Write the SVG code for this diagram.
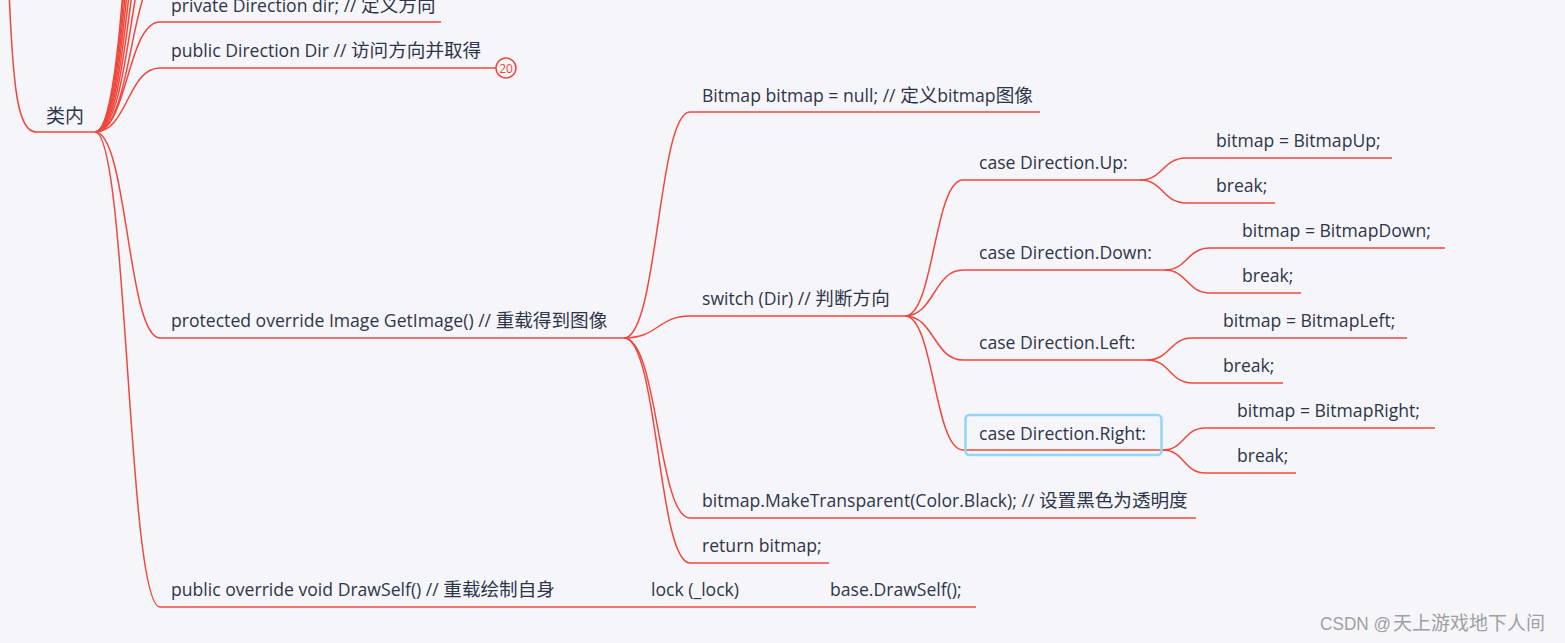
<svg xmlns="http://www.w3.org/2000/svg" width="1565" height="643" viewBox="0 0 1565 643">
<style>
.t{font-family:"Open Sans","Noto Sans CJK SC",sans-serif;font-size:17.6px;fill:#2e3548}
.c{font-family:"Noto Sans CJK SC",sans-serif;font-size:18.6px}
.r{font-size:19px}
.ln{fill:none;stroke:#f0473c;stroke-width:1.5}
.wm{font-family:"Liberation Sans","Noto Sans CJK SC",sans-serif;font-size:19px;fill:#a0a0a0}
</style>
<rect width="1565" height="643" fill="#f6f6fa"/>
<g id="connectors" class="ln">
<path d="M9,-10 C13,90 18,132 36,132"/>
<path d="M95,132 C132,132 130,-24 160,-24"/>
<path d="M95,132 C132,132 130,-70 160,-70"/>
<path d="M95,132 C132,132 130,-116 160,-116"/>
<path d="M95,132 C132,132 130,-162 160,-162"/>
<path d="M95,132 C132,132 130,-208 160,-208"/>
<path d="M95,132 C132,132 130,-254 160,-254"/>
<path d="M95,132 C132,132 130,-300 160,-300"/>
<path d="M95,132 C132,132 130,-346 160,-346"/>
<path d="M95,132 C127.5,132 127.5,22 160,22"/>
<path d="M95,132 C127.5,132 127.5,68 160,68"/>
<path d="M95,132 C127.5,132 127.5,338 160,338"/>
<path d="M95,132 C127.5,132 127.5,607 160,607"/>
<path d="M624,338 C658,338 658,112 690,112"/>
<path d="M624,338 C658,338 658,316 690,316"/>
<path d="M624,338 C658,338 658,518 690,518"/>
<path d="M624,338 C658,338 658,563 690,563"/>
<path d="M905,316 C934,316 934,180 963,180"/>
<path d="M905,316 C934,316 934,270 963,270"/>
<path d="M905,316 C934,316 934,360 963,360"/>
<path d="M905,316 C934,316 934,450 963,450"/>
<path d="M1140,180 C1163,180 1163,158 1186,158"/>
<path d="M1140,180 C1163,180 1163,203 1186,203"/>
<path d="M1165,270 C1187,270 1187,248 1210,248"/>
<path d="M1165,270 C1187,270 1187,293 1210,293"/>
<path d="M1147,360 C1170,360 1170,338 1192,338"/>
<path d="M1147,360 C1170,360 1170,383 1192,383"/>
<path d="M1163,450 C1184,450 1184,428 1205,428"/>
<path d="M1163,450 C1184,450 1184,473 1205,473"/>
<path d="M630,607 L645,607"/>
<path d="M757,607 L820,607"/>
</g>
<g id="root"><line class="ln" x1="35" y1="132" x2="95" y2="132"/><text class="t r" x="46" y="123">类内</text></g>
<g id="n-dir"><line class="ln" x1="160" y1="22" x2="441" y2="22"/><text class="t" x="171" y="12">private Direction dir; // <tspan class="c">定义方向</tspan></text></g>
<g id="n-Dir"><line class="ln" x1="160" y1="68" x2="496" y2="68"/><text class="t" x="171" y="57">public Direction Dir // <tspan class="c">访问方向并取得</tspan></text>
<circle cx="506" cy="68" r="10" fill="#f6f6fa" stroke="#f0473c" stroke-width="1.5"/><text x="506" y="72.5" text-anchor="middle" font-family="Open Sans,sans-serif" font-size="12" fill="#f0473c">20</text></g>
<g id="n-getimage"><line class="ln" x1="160" y1="338" x2="624" y2="338"/><text class="t" x="171" y="327">protected override Image GetImage() // <tspan class="c">重载得到图像</tspan></text></g>
<g id="n-drawself"><line class="ln" x1="160" y1="607" x2="630" y2="607"/><text class="t" x="171" y="596">public override void DrawSelf() // <tspan class="c">重载绘制自身</tspan></text></g>
<g id="n-lock"><line class="ln" x1="645" y1="607" x2="757" y2="607"/><text class="t" x="651" y="596">lock (_lock)</text></g>
<g id="n-base"><line class="ln" x1="820" y1="607" x2="976" y2="607"/><text class="t" x="830" y="596">base.DrawSelf();</text></g>
<g id="n-bitmap"><line class="ln" x1="690" y1="112" x2="1040" y2="112"/><text class="t" x="702" y="102">Bitmap bitmap = null; // <tspan class="c">定义</tspan>bitmap<tspan class="c">图像</tspan></text></g>
<g id="n-switch"><line class="ln" x1="690" y1="316" x2="905" y2="316"/><text class="t" x="702" y="305">switch (Dir) // <tspan class="c">判断方向</tspan></text></g>
<g id="n-transparent"><line class="ln" x1="690" y1="518" x2="1196" y2="518"/><text class="t" x="702" y="507">bitmap.MakeTransparent(Color.Black); // <tspan class="c">设置黑色为透明度</tspan></text></g>
<g id="n-return"><line class="ln" x1="690" y1="563" x2="829" y2="563"/><text class="t" x="702" y="552">return bitmap;</text></g>
<g id="n-up"><line class="ln" x1="963" y1="180" x2="1140" y2="180"/><text class="t" x="979" y="169">case Direction.Up:</text></g>
<g id="n-down"><line class="ln" x1="963" y1="270" x2="1165" y2="270"/><text class="t" x="979" y="259">case Direction.Down:</text></g>
<g id="n-left"><line class="ln" x1="963" y1="360" x2="1147" y2="360"/><text class="t" x="979" y="349">case Direction.Left:</text></g>
<g id="n-right"><line class="ln" x1="963" y1="450" x2="1163" y2="450"/><text class="t" x="979" y="440">case Direction.Right:</text>
<rect x="965.5" y="415" width="196" height="40" rx="4" fill="none" stroke="#93d4fa" stroke-width="2.5"/></g>
<g id="n-up1"><line class="ln" x1="1186" y1="158" x2="1392" y2="158"/><text class="t" x="1216" y="147">bitmap = BitmapUp;</text></g>
<g id="n-up2"><line class="ln" x1="1186" y1="203" x2="1275" y2="203"/><text class="t" x="1216" y="192">break;</text></g>
<g id="n-down1"><line class="ln" x1="1210" y1="248" x2="1445" y2="248"/><text class="t" x="1242" y="237">bitmap = BitmapDown;</text></g>
<g id="n-down2"><line class="ln" x1="1210" y1="293" x2="1301" y2="293"/><text class="t" x="1242" y="282">break;</text></g>
<g id="n-left1"><line class="ln" x1="1192" y1="338" x2="1407" y2="338"/><text class="t" x="1223" y="327">bitmap = BitmapLeft;</text></g>
<g id="n-left2"><line class="ln" x1="1192" y1="383" x2="1283" y2="383"/><text class="t" x="1223" y="372">break;</text></g>
<g id="n-right1"><line class="ln" x1="1205" y1="428" x2="1435" y2="428"/><text class="t" x="1237" y="417">bitmap = BitmapRight;</text></g>
<g id="n-right2"><line class="ln" x1="1205" y1="473" x2="1296" y2="473"/><text class="t" x="1237" y="462">break;</text></g>
<text class="wm" x="1320" y="630" textLength="71" lengthAdjust="spacingAndGlyphs">CSDN @</text>
<text class="wm" x="1393" y="630" font-size="19.5">天上游戏地下人间</text>
</svg>
